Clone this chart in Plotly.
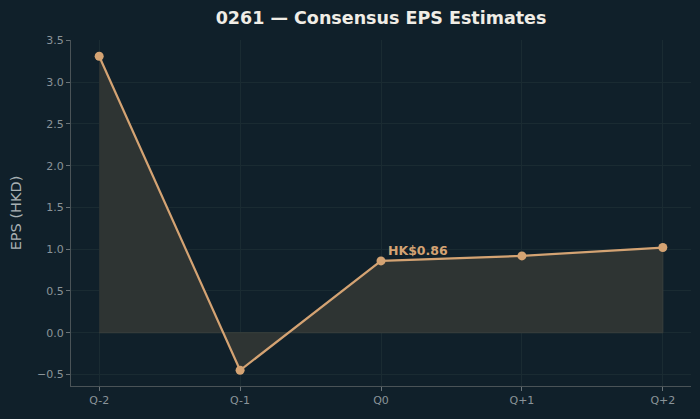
import plotly.graph_objects as go

periods = ["Q-2", "Q-1", "Q0", "Q+1", "Q+2"]
eps = [3.31, -0.45, 0.86, 0.92, 1.02]
current_label = "HK$0.86"
current_idx = 2

BG = "#10202a"
LINE = "#d4a373"
FILL = "#2e3433"
GRID = "#1a2b32"
TICK = "#8a9499"

fig = go.Figure()

# fill polygon between series and zero
fig.add_trace(go.Scatter(
    x=periods + periods[::-1],
    y=eps + [0] * len(eps),
    fill="toself", fillcolor=FILL,
    line=dict(color="#3a3f3d", width=1),
    mode="lines", hoverinfo="skip", showlegend=False,
))

fig.add_trace(go.Scatter(
    x=periods, y=eps, mode="lines+markers",
    line=dict(color=LINE, width=2.2),
    marker=dict(color=LINE, size=9),
    showlegend=False,
))

fig.add_annotation(
    x=periods[current_idx], y=eps[current_idx], text="<b>" + current_label + "</b>",
    showarrow=False, xanchor="left", yanchor="bottom", xshift=5, yshift=1,
    font=dict(color=LINE, size=12.5, family="DejaVu Sans"),
)

fig.update_layout(
    width=700, height=419,
    margin=dict(l=71, r=9, t=40, b=33),
    paper_bgcolor=BG, plot_bgcolor=BG,
    font=dict(family="DejaVu Sans", color=TICK, size=11),
    title=dict(text="<b>0261 — Consensus EPS Estimates</b>", x=(71 + 310) / 700, xanchor="center",
               y=1 - 18 / 419, yanchor="middle",
               font=dict(size=17.5, color="#f0ede6", family="DejaVu Sans")),
)

fig.update_xaxes(
    type="category", range=[-0.2, 4.2],
    showgrid=True, gridcolor=GRID, gridwidth=1,
    showline=True, linecolor="#4a5357", linewidth=1,
    ticks="outside", ticklen=4, tickcolor="#6a7378",
    tickfont=dict(size=11, color=TICK), zeroline=False,
)
fig.update_yaxes(
    range=[-0.638, 3.505],
    tickvals=[-0.5, 0, 0.5, 1, 1.5, 2, 2.5, 3, 3.5],
    ticktext=["−0.5", "0.0", "0.5", "1.0", "1.5", "2.0", "2.5", "3.0", "3.5"],
    showgrid=True, gridcolor=GRID, gridwidth=1,
    showline=True, linecolor="#4a5357", linewidth=1,
    ticks="outside", ticklen=4, tickcolor="#6a7378",
    tickfont=dict(size=11, color=TICK), zeroline=False,
    title=dict(text="EPS (HKD)", font=dict(size=14.5, color="#a9b1b4"), standoff=12),
)

fig.write_html("out.html")
